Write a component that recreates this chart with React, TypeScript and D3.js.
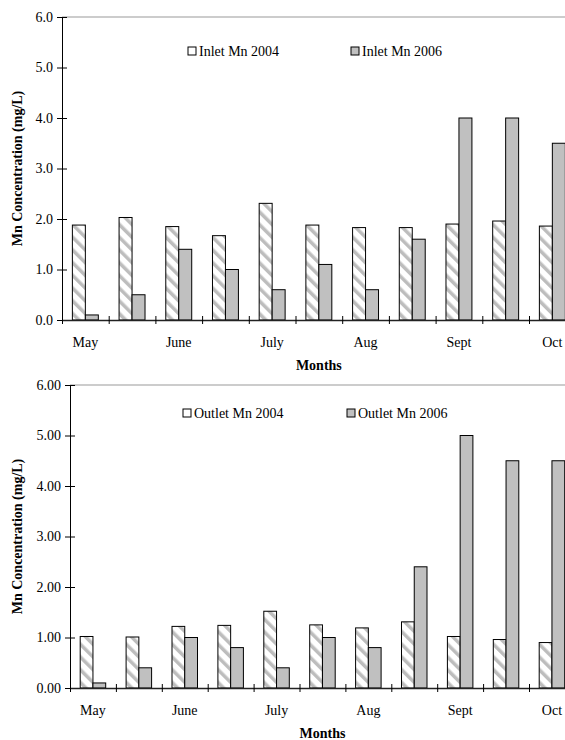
import { useEffect, useRef } from 'react';
import * as d3 from 'd3';

const months = ['May', '', 'June', '', 'July', '', 'Aug', '', 'Sept', '', 'Oct'];
const yTicks = [0, 1, 2, 3, 4, 5, 6];

const inlet2004 = [1.88, 2.03, 1.85, 1.67, 2.31, 1.88, 1.83, 1.83, 1.9, 1.96, 1.86];
const inlet2006 = [0.1, 0.5, 1.4, 1.0, 0.6, 1.1, 0.6, 1.6, 4.0, 4.0, 3.5];

const outlet2004 = [1.02, 1.01, 1.22, 1.24, 1.52, 1.25, 1.19, 1.31, 1.02, 0.96, 0.9];
const outlet2006 = [0.1, 0.4, 1.0, 0.8, 0.4, 1.0, 0.8, 2.4, 5.0, 4.5, 4.5];

type PanelCfg = {
  a: number[];
  b: number[];
  names: [string, string];
  left: number;
  top: number;
  bottom: number;
  step: number;
  fmt: string;
  legendY: number;
  legendX: [number, number];
};

const panels: PanelCfg[] = [
  {
    a: inlet2004,
    b: inlet2006,
    names: ['Inlet Mn 2004', 'Inlet Mn 2006'],
    left: 62,
    top: 17,
    bottom: 320,
    step: 46.7,
    fmt: '.1f',
    legendY: 51,
    legendX: [192, 355],
  },
  {
    a: outlet2004,
    b: outlet2006,
    names: ['Outlet Mn 2004', 'Outlet Mn 2006'],
    left: 70,
    top: 385,
    bottom: 688,
    step: 45.9,
    fmt: '.2f',
    legendY: 413,
    legendX: [187, 351],
  },
];

const FONT = "'Liberation Serif', 'Times New Roman', 'DejaVu Serif', serif";
const FS = 14;

const App = () => {
  const ref = useRef<SVGSVGElement>(null);

  useEffect(() => {
    const svg = d3.select(ref.current);
    svg.selectAll('*').remove();

    const defs = svg.append('defs');
    const pat = defs
      .append('pattern')
      .attr('id', 'hatch')
      .attr('patternUnits', 'userSpaceOnUse')
      .attr('width', 9)
      .attr('height', 9)
      .attr('patternTransform', 'rotate(-45)');
    pat.append('rect').attr('width', 9).attr('height', 9).attr('fill', '#fff');
    pat.append('rect').attr('width', 3.5).attr('height', 9).attr('fill', '#bdbdbd');

    panels.forEach((p) => {
      const g = svg.append('g').attr('font-family', FONT).attr('font-size', FS);
      const idx = months.map((_, i) => String(i));

      const x0 = d3
        .scaleBand()
        .domain(idx)
        .range([p.left, p.left + p.step * months.length])
        .padding(0);

      const x1 = d3
        .scaleBand()
        .domain(['a', 'b'])
        .range([0, x0.bandwidth()])
        .paddingInner(0)
        .paddingOuter(0.8);

      const y = d3.scaleLinear().domain([0, 6]).range([p.bottom, p.top]);

      // top frame line
      g.append('line')
        .attr('x1', p.left)
        .attr('x2', 600)
        .attr('y1', p.top)
        .attr('y2', p.top)
        .attr('stroke', '#999')
        .attr('stroke-width', 1);

      // bars
      const rows = months.map((_, i) => ({ i: String(i), a: p.a[i], b: p.b[i] }));
      const grp = g
        .append('g')
        .selectAll('g')
        .data(rows)
        .join('g')
        .attr('transform', (d) => `translate(${x0(d.i)},0)`);

      grp
        .append('rect')
        .attr('x', x1('a')!)
        .attr('y', (d) => y(d.a))
        .attr('width', x1.bandwidth())
        .attr('height', (d) => y(0) - y(d.a))
        .attr('fill', 'url(#hatch)')
        .attr('stroke', '#000')
        .attr('stroke-width', 1);

      grp
        .append('rect')
        .attr('x', x1('b')!)
        .attr('y', (d) => y(d.b))
        .attr('width', x1.bandwidth())
        .attr('height', (d) => y(0) - y(d.b))
        .attr('fill', '#c0c0c0')
        .attr('stroke', '#000')
        .attr('stroke-width', 1);

      // y axis
      const yAxis = g
        .append('g')
        .attr('transform', `translate(${p.left},0)`)
        .call(
          d3
            .axisLeft(y)
            .tickValues(yTicks)
            .tickFormat(d3.format(p.fmt) as any)
            .tickSizeOuter(0)
            .tickSizeInner(5)
        )
        .attr('font-family', FONT)
        .attr('font-size', FS);
      yAxis.select('.domain').attr('stroke', '#000');
      yAxis
        .selectAll('.tick line')
        .attr('x1', -5)
        .attr('x2', 5)
        .attr('stroke', '#000');
      yAxis.selectAll('.tick text').attr('x', -9).attr('fill', '#000');

      // x axis
      const xb = d3
        .scaleLinear()
        .domain([0, months.length])
        .range([p.left, p.left + p.step * months.length]);
      const xAxis = g
        .append('g')
        .attr('transform', `translate(0,${p.bottom})`)
        .call(
          d3
            .axisBottom(xb)
            .tickValues(d3.range(0, months.length + 1))
            .tickFormat(() => '')
            .tickSizeOuter(0)
            .tickSizeInner(4)
        );
      xAxis.select('.domain').attr('stroke', '#222').attr('stroke-width', 1.5);
      xAxis.selectAll('.tick line').attr('y1', -4).attr('y2', 4).attr('stroke', '#000');

      // month labels centred between the two bars
      g.append('g')
        .selectAll('text')
        .data(rows.filter((_, i) => months[i] !== ''))
        .join('text')
        .attr('x', (d) => x0(d.i)! + x1('b')!)
        .attr('y', p.bottom + 27)
        .attr('text-anchor', 'middle')
        .text((d) => months[+d.i]);

      g.append('text')
        .attr('x', p.left + (p.step * months.length) / 2)
        .attr('y', p.bottom + 50)
        .attr('text-anchor', 'middle')
        .attr('font-weight', 'bold')
        .text('Months');

      g.append('text')
        .attr('transform', `translate(22,${(p.top + p.bottom) / 2}) rotate(-90)`)
        .attr('text-anchor', 'middle')
        .attr('font-weight', 'bold')
        .text('Mn Concentration (mg/L)');

      // legend
      const fills = ['#fff', '#c0c0c0'];
      p.names.forEach((name, k) => {
        const lg = g.append('g').attr('transform', `translate(${p.legendX[k]},${p.legendY})`);
        lg.append('rect')
          .attr('x', -4)
          .attr('y', -4)
          .attr('width', 8)
          .attr('height', 8)
          .attr('fill', fills[k])
          .attr('stroke', '#000')
          .attr('stroke-width', 1);
        lg.append('text').attr('x', 7).attr('y', 5).text(name);
      });
    });
  }, []);

  return (
    <svg
      ref={ref}
      width={565}
      height={740}
      style={{ position: 'absolute', left: 0, top: 0, background: '#fff' }}
    />
  );
};

export default App;
